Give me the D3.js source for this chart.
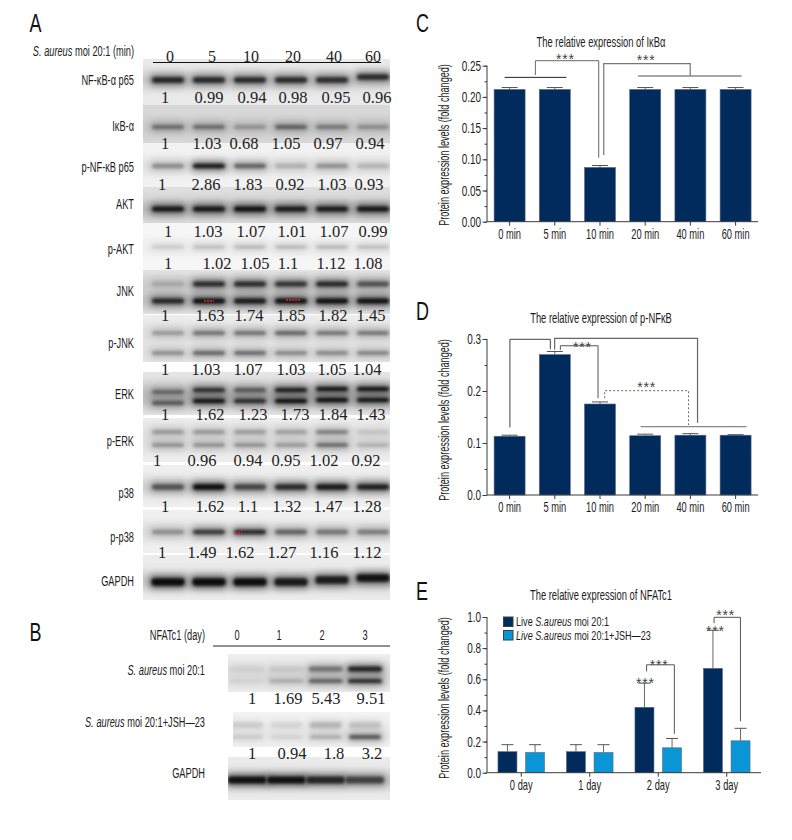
<!DOCTYPE html>
<html><head><meta charset="utf-8">
<style>html,body{margin:0;padding:0;background:#fff}svg{display:block}</style>
<script src="https://cdn.jsdelivr.net/npm/d3@7"></script></head><body>
<svg id="fig" width="792" height="840"></svg>
<script>
// ---------- DATA ----------
const minLanes = ["0","5","10","20","40","60"];
const dayLanes = ["0","1","2","3"];
const blotNames = ["NF-κB-α p65","IκB-α","p-NF-κB p65","AKT","p-AKT","JNK","p-JNK","ERK","p-ERK","p38","p-p38","GAPDH"];
const blotRatios = [
 ["1","0.99","0.94","0.98","0.95","0.96"],
 ["1","1.03","0.68","1.05","0.97","0.94"],
 ["1","2.86","1.83","0.92","1.03","0.93"],
 ["1","1.03","1.07","1.01","1.07","0.99"],
 ["1","1.02","1.05","1.1","1.12","1.08"],
 ["1","1.63","1.74","1.85","1.82","1.45"],
 ["1","1.03","1.07","1.03","1.05","1.04"],
 ["1","1.62","1.23","1.73","1.84","1.43"],
 ["1","0.96","0.94","0.95","1.02","0.92"],
 ["1","1.62","1.1","1.32","1.47","1.28"],
 ["1","1.49","1.62","1.27","1.16","1.12"]
];
// band darkness per lane (upper band, optional lower band)
const bandDarkness = [
 [[.82,.80,.78,.78,.76,.78]],
 [[.42,.42,.24,.48,.36,.26]],
 [[.32,.92,.50,.18,.30,.16]],
 [[.92,.92,.98,.88,.88,.92]],
 [[.14,.20,.22,.22,.22,.20]],
 [[.15,.78,.78,.72,.80,.55],[.80,.98,.90,.98,.98,.98]],
 [[.26,.42,.42,.48,.40,.40],[.30,.48,.45,.32,.32,.34]],
 [[.42,.76,.50,.88,.95,.95],[.50,.98,.78,1,1,.95]],
 [[.30,.30,.28,.26,.40,.12],[.32,.32,.32,.28,.50,.18]],
 [[.55,1,.62,.78,.90,.85]],
 [[.30,.72,.82,.50,.42,.38]],
 [[1,1,.98,.88,.88,.95]]
];
const nfatNames = ["S. aureus moi 20:1","S. aureus moi 20:1+JSH—23","GAPDH"];
const nfatRatios = [["1","1.69","5.43","9.51"],["1","0.94","1.8","3.2"]];
const nfatUpper = [[.05,.08,.42,.85],[.10,.07,.18,.14],[.97,.97,.80,.62]];
const nfatLower = [[.04,.18,.50,.80],[.10,.07,.20,.58],null];

const minCats = ["0 min","5 min","10 min","20 min","40 min","60 min"];
const ikbMean = [.212,.212,.087,.212,.212,.212];
const ikbTop  = [.215,.215,.09,.215,.215,.215];
const pnfMean = [.113,.27,.175,.114,.115,.115];
const pnfTop  = [.115,.276,.179,.117,.118,.116];
const dayCats = ["0 day","1 day","2 day","3 day"];
const nfatcLive = [.135,.135,.42,.67];
const nfatcLiveTop = [.18,.18,.575,.915];
const nfatcJsh = [.13,.13,.16,.205];
const nfatcJshTop = [.18,.18,.22,.285];

// brackets in chart units: [lane, value] vertices
const ikbBrackets = [
 {c:"#222",p:[[-.11,.2313],[1.256,.2313]]},
 {c:"#666",p:[[.57,.235],[.57,.258],[1.972,.258],[1.972,.1026]]},
 {c:"#8a8a8a",w:1.4,p:[[2.843,.2334],[5.133,.2334]]},
 {c:"#777",w:1.2,p:[[3.996,.2334],[3.996,.2532],[2.083,.2532],[2.083,.1068]]}
];
const ikbStars = [[1.234,.2645],[3.02,.2625]];
const pnfBrackets = [
 {c:"#444",p:[[.007,.13],[.007,.2994],[.901,.2994],[.901,.28]]},
 {c:"#666",w:1.2,p:[[.997,.28],[.997,.3013],[4.158,.3013],[4.158,.139]]},
 {c:"#555",p:[[1.123,.279],[1.123,.287],[1.957,.287],[1.957,.186]]},
 {c:"#666",d:"2 2",p:[[2.105,.186],[2.105,.2006],[3.959,.2006],[3.959,.1346]]},
 {c:"#888",w:1.4,p:[[2.9,.1314],[5.244,.1314]]}
];
const pnfStars = [[1.61,.288],[3.03,.211]];
const dayBrackets = [
 {c:"#555",p:[[1.83,.65],[1.83,.693],[2.235,.693],[2.235,.25]]},
 {c:"#555",p:[[2.815,.96],[2.815,.998],[3.2,.998],[3.2,.33]]}
];
const dayStars = [[1.813,.59],[2.013,.705],[2.834,.92],[2.985,1.027]];
const legendNames = [["Live ","S.aureus"," moi 20:1"],["Live S.aureus",""," moi 20:1+JSH—23"]];

// ---------- HELPERS ----------
const svg = d3.select("#fig");
const defs = svg.append("defs");
[["b1",1.7],["b2",3.8],["b3",6]].forEach(([id,s])=>{
  defs.append("filter").attr("id",id).attr("x","-40%").attr("y","-300%").attr("width","180%").attr("height","700%")
    .append("feGaussianBlur").attr("stdDeviation",s);
});
const NARROW = "'Liberation Sans',sans-serif";
const SERIF = "'Liberation Serif',serif";
function label(parent,parts,x,y,o={}){
  const sx=o.sx??.66;
  const tx=parent.append("text").attr("font-family",o.font||NARROW).attr("font-size",o.size||14)
    .attr("fill",o.fill||"#1c1c1c").attr("text-anchor",o.anchor||"end")
    .attr("transform",`translate(${x},${y})${o.rot?` rotate(${o.rot})`:""} scale(${sx},1)`);
  (Array.isArray(parts)?parts:[[parts,false]]).forEach(([s,i])=>tx.append("tspan").attr("font-style",i?"italic":"normal").text(s));
  return tx;
}
const ratio=(parent,s,x,y)=>parent.append("text").attr("font-family",SERIF).attr("font-size",16.5).attr("fill","#222").attr("text-anchor","middle").attr("x",x).attr("y",y).text(s);
function drawBlot(id,x0,x1,top,bot,bg,bands){
  const clip=defs.append("clipPath").attr("id","c"+id);
  clip.append("rect").attr("x",x0).attr("y",top).attr("width",x1-x0).attr("height",bot-top);
  const g=svg.append("g").attr("clip-path",`url(#c${id})`);
  g.append("rect").attr("x",x0).attr("y",top).attr("width",x1-x0).attr("height",bot-top).attr("fill",bg);
  bands.forEach(b=>{
    const dy=b.dy||(()=>0);
    g.append("rect").attr("x",x0-12).attr("width",x1-x0+24).attr("y",b.y-7).attr("height",14).attr("fill","#000")
      .attr("opacity",d3.mean(b.d)*.2).attr("filter","url(#b3)");
    g.selectAll(null).data(b.d).join("rect").attr("x",(d,i)=>b.x(i)-b.w/2-2).attr("width",b.w+4)
      .attr("y",(d,i)=>b.y+dy(i)-b.h/2-3).attr("height",b.h+6).attr("rx",4).attr("fill","#000")
      .attr("opacity",d=>d*.5).attr("filter","url(#b2)");
    g.selectAll(null).data(b.d).join("rect").attr("x",(d,i)=>b.x(i)-b.w/2).attr("width",b.w)
      .attr("y",(d,i)=>b.y+dy(i)-b.h/2).attr("height",b.h).attr("rx",3).attr("fill","#000")
      .attr("opacity",d=>d*.88).attr("filter","url(#b1)");
  });
  return g;
}

// ---------- PANEL LETTERS ----------
[["A",29.5,32],["B",29.5,641],["C",416,32],["D",416,320],["E",416,600]].forEach(([s,x,y])=>
  label(svg,s,x,y,{size:25,anchor:"start",fill:"#111",sx:.72}));

// ---------- PANEL A ----------
const laneA = d3.scalePoint().domain(d3.range(6)).range([168,373]);
const blotTop=[59,105,143,187,223,270,315,372,418,465,510,555];
const blotBot=[105,143,187,223,270,314,362,415,462,507,553,600];
const blotBg=["#eaeaea","#d8d8d8","#f2f2f2","#dedede","#f6f6f6","#e6e6e6","#ededed","#e6e6e6","#eeeeee","#efefef","#f0f0f0","#ececec"];
const bandY=[[80],[127],[166],[209],[247],[284,301],[333,353],[390,401],[432,445],[487],[532],[581]];
const bandH=[5.5,4,4.5,5,2.5,5,4,4,3.5,5.5,4.5,7.5];
const laneDrift={0:[0,0,0,0,0,-3],7:[2,0,0,0,-1,-1],11:[1,1,1,1,-1,-3]};
blotNames.forEach((n,r)=>{
  const drift=laneDrift[r];
  drawBlot("a"+r,143,390,blotTop[r],blotBot[r],blotBg[r],
    bandDarkness[r].map((d,k)=>({d,y:bandY[r][k],h:bandH[r],w:r===11?33:32,x:i=>laneA(i),dy:drift?(i=>drift[i]):null})));
});
// saturated pixels
const saturated=[[1,301,10],[3,300,14],[2,533,7]];
svg.selectAll(null).data(saturated).join("line").attr("x1",d=>laneA(d[0])-5+(d[0]==2?-10:0)).attr("x2",d=>laneA(d[0])-5+(d[0]==2?-10:0)+d[2])
  .attr("y1",d=>d[1]).attr("y2",d=>d[1]).attr("stroke","#d8232a").attr("stroke-width",2).attr("stroke-dasharray","2 1").attr("opacity",.85);

const headerX=[170,212,251,293,334,373];
minLanes.forEach((s,i)=>svg.append("text").attr("font-family",SERIF).attr("font-size",16).attr("fill","#222")
  .attr("text-anchor","middle").attr("x",headerX[i]).attr("y",61.5).text(s));
svg.append("line").attr("x1",153).attr("x2",381).attr("y1",62.5).attr("y2",62.5).attr("stroke","#111");
label(svg,[["S. aureus",true],[" moi 20:1 (min)",false]],134,56,{});
const nameBase=[85,131,172,209,254,296,348,399,446,498,542,586];
blotNames.forEach((n,r)=>label(svg,n,134,nameBase[r],{}));
const ratioBase=[103,149,190,237,269,321,375,420,466,512,558];
const ratioX=[
 [165,209,252,293,336,377],[165,207,244,286,328,370],[162,206,248,290,332,369],
 [168,208,251,292,334,373],[168,217,255,288,331,368],[165,210,249,291,333,371],
 [165,206,248,291,332,367],[165,210,253,295,333,371],[157,202,248,286,324,366],
 [165,210,248,287,328,367],[162,202,240,282,324,367]];
blotRatios.forEach((row,r)=>row.forEach((s,i)=>ratio(svg,s,ratioX[r][i],ratioBase[r])));

// ---------- PANEL B ----------
const laneB=d3.scalePoint().domain(d3.range(4)).range([247,365]);
label(svg,"NFATc1 (day)",205,640,{});
dayLanes.forEach((s,i)=>label(svg,s,[237,279,322,365][i],640,{anchor:"middle"}));
svg.append("line").attr("x1",213).attr("x2",390).attr("y1",646).attr("y2",646).attr("stroke","#222");
label(svg,[["S. aureus",true],[" moi 20:1",false]],205,675,{});
label(svg,[["S. aureus",true],[" moi 20:1+JSH—23",false]],205,727,{});
label(svg,"GAPDH",205,778,{});
drawBlot("b0",228,390,654,692,"#f0f0f0",[
 {d:nfatUpper[0],y:669,h:5,w:34,x:i=>laneB(i)},{d:nfatLower[0],y:681,h:4,w:34,x:i=>laneB(i)}]);
drawBlot("b1x",233,390,712,747,"#f4f4f4",[
 {d:nfatUpper[1],y:725,h:6,w:32,x:i=>laneB(i)},{d:nfatLower[1],y:737,h:4,w:32,x:i=>laneB(i)}]);
drawBlot("b2x",228,390,757,800,"#ebebeb",[{d:nfatUpper[2],y:780,h:7,w:38,x:i=>laneB(i)}]);
nfatRatios.forEach((row,r)=>row.forEach((s,i)=>ratio(svg,s,[[252,288,326,371],[252,292,334,372]][r][i],[704,759][r])));

// ---------- BAR CHART HELPERS ----------
const NAVY="#002b5c", SKY="#0a96d6", AX="#3a3a3a";
function frame(title,titleX,titleY,ySc,major,minor,fmt,xSc,yTitleMid){
  const g=svg.append("g");
  const x0=xSc.range()[0], base=ySc.range()[0];
  const yAx=g.append("g").attr("transform",`translate(${x0},0)`)
    .call(d3.axisLeft(ySc).tickValues(minor).tickSize(2.5).tickFormat(""));
  yAx.selectAll("path").remove();yAx.selectAll("line").attr("stroke",AX);
  const yM=g.append("g").attr("transform",`translate(${x0},0)`)
    .call(d3.axisLeft(ySc).tickValues(major).tickSize(4.5).tickPadding(2).tickFormat(d3.format(fmt)));
  yM.select("path").attr("stroke",AX).attr("d",`M0,${ySc.range()[1]}V${base}`);
  yM.selectAll("line").attr("stroke",AX);
  yM.selectAll("text").remove();
  major.forEach(v=>label(g,d3.format(fmt)(v),x0-6,ySc(v)+5,{size:14,sx:.71}));
  label(g,title,titleX,titleY,{anchor:"middle",size:14,sx:.67});
  label(g,"Protein expression levels (fold changed)",449,yTitleMid,{anchor:"middle",rot:-90,size:14,sx:.65});
  return g;
}
function xAxis(g,xSc,base){
  const a=g.append("g").attr("transform",`translate(0,${base})`).call(d3.axisBottom(xSc).tickSize(4).tickFormat(""));
  a.select("path").attr("stroke",AX).attr("d",`M${xSc.range()[0]},0H${xSc.range()[1]}`);
  a.selectAll("line").attr("stroke",AX);
  xSc.domain().forEach(c=>label(g,c,xSc(c)+xSc.bandwidth()/2,base+17,{anchor:"middle",size:14,sx:.665}));
}
function bars(g,cats,means,tops,xf,w,yS,color,capW){
  const base=yS.range()[0];
  const rows=cats.map((c,i)=>({c,m:means[i],t:tops[i],x:xf(c)}));
  g.selectAll(null).data(rows).join("line").attr("x1",d=>d.x).attr("x2",d=>d.x).attr("y1",d=>yS(d.m)).attr("y2",d=>yS(d.t)).attr("stroke","#666");
  g.selectAll(null).data(rows).join("line").attr("x1",d=>d.x-capW/2).attr("x2",d=>d.x+capW/2).attr("y1",d=>yS(d.t)).attr("y2",d=>yS(d.t)).attr("stroke","#555");
  g.selectAll(null).data(rows).join("rect").attr("x",d=>d.x-w/2).attr("width",w).attr("y",d=>yS(d.m)).attr("height",d=>base-yS(d.m))
    .attr("fill",color).attr("stroke","#5b6b7d").attr("stroke-width",.6);
}
function brackets(g,list,lx,yS){
  const ln=d3.line().x(d=>lx(d[0])).y(d=>yS(d[1]));
  g.selectAll(null).data(list).join("path").attr("d",d=>ln(d.p)).attr("fill","none")
   .attr("stroke",d=>d.c).attr("stroke-width",d=>d.w||1).attr("stroke-dasharray",d=>d.d||null);
}
function stars(g,list,lx,yS){
  g.selectAll(null).data(list).join("text").attr("x",d=>lx(d[0])).attr("y",d=>yS(d[1])+7)
   .attr("text-anchor","middle").attr("font-family","'Liberation Sans',sans-serif").attr("font-size",14)
   .attr("letter-spacing",.8).attr("fill","#444").text("***");
}

// ---------- PANEL C ----------
const xMin=d3.scaleBand().domain(minCats).range([487,758.2]).paddingInner(.314).paddingOuter(.157);
const laneMin=d3.scaleLinear().domain([0,5]).range([xMin(minCats[0])+xMin.bandwidth()/2,xMin(minCats[5])+xMin.bandwidth()/2]);
const yC=d3.scaleLinear().domain([0,.25]).range([221.7,65.7]);
const gC=frame("The relative expression of IκBα",601,47,yC,d3.range(0,.2501,.05),d3.range(0,.2501,.025),".2f",xMin,145);
bars(gC,minCats,ikbMean,ikbTop,c=>xMin(c)+xMin.bandwidth()/2,31,yC,NAVY,16);
xAxis(gC,xMin,221.7);
brackets(gC,ikbBrackets,laneMin,yC);stars(gC,ikbStars,laneMin,yC);

// ---------- PANEL D ----------
const yD=d3.scaleLinear().domain([0,.3]).range([495,339]);
const gD=frame("The relative expression of p-NFκB",601,323,yD,d3.range(0,.301,.1),d3.range(0,.301,.05),".1f",xMin,420);
bars(gD,minCats,pnfMean,pnfTop,c=>xMin(c)+xMin.bandwidth()/2,31,yD,NAVY,16);
xAxis(gD,xMin,495);
brackets(gD,pnfBrackets,laneMin,yD);stars(gD,pnfStars,laneMin,yD);

// ---------- PANEL E ----------
const xDay=d3.scaleBand().domain(dayCats).range([487,761]).paddingInner(0).paddingOuter(0);
const groupX=c=>xDay(c)+xDay.bandwidth()/2;
const laneDay=d3.scaleLinear().domain([0,3]).range([groupX(dayCats[0]),groupX(dayCats[3])]);
const yE=d3.scaleLinear().domain([0,1]).range([772.7,617]);
const gE=frame("The relative expression of NFATc1",601,600,yE,d3.range(0,1.01,.2),d3.range(0,1.01,.1),".1f",xDay,698);
bars(gE,dayCats,nfatcLive,nfatcLiveTop,c=>groupX(c)-13.8,19,yE,NAVY,12);
bars(gE,dayCats,nfatcJsh,nfatcJshTop,c=>groupX(c)+13.8,19,yE,SKY,12);
xAxis(gE,xDay,772.7);
brackets(gE,dayBrackets,laneDay,yE);stars(gE,dayStars,laneDay,yE);
// legend
[NAVY,SKY].forEach((col,i)=>{
  gE.append("rect").attr("x",503.5).attr("y",617+i*13.5).attr("width",9.5).attr("height",9.5).attr("fill",col).attr("stroke","#344");
});
label(gE,[[legendNames[0][0],false],[legendNames[0][1],true],[legendNames[0][2],false]],516,625.5,{anchor:"start",size:13,sx:.7});
label(gE,[[legendNames[1][0],true],[legendNames[1][2],false]],516,640,{anchor:"start",size:13,sx:.7});
</script>
</body></html>
